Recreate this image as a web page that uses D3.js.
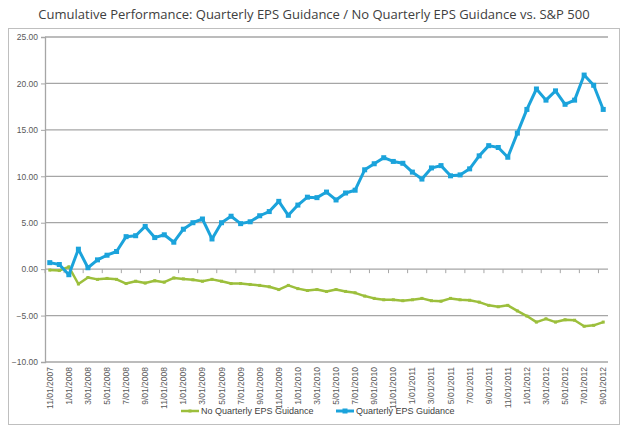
<!DOCTYPE html>
<html><head><meta charset="utf-8">
<script src="https://cdn.jsdelivr.net/npm/d3@7"></script>
<style>body{margin:0;background:#fff}svg{display:block}</style>
</head><body>
<script>
const title = "Cumulative Performance: Quarterly EPS Guidance / No Quarterly EPS Guidance vs. S&P 500";
const months = [];
(function(){ let m=11, y=2007; for(let i=0;i<59;i++){ months.push(m+"/01/"+y); m++; if(m>12){m=1;y++;} } })();
const yTicks = [25,20,15,10,5,0,-5,-10];
const seriesNames = ["No Quarterly EPS Guidance","Quarterly EPS Guidance"];
const quarterly = [0.7,0.5,-0.6,2.15,0.15,1.0,1.5,1.9,3.5,3.6,4.6,3.4,3.7,2.9,4.3,5.0,
  5.4,3.25,5.0,5.7,4.9,5.1,5.75,6.2,7.3,5.8,6.9,7.75,7.7,8.3,
  7.45,8.2,8.5,10.7,11.35,12.0,11.6,11.4,10.45,9.7,10.9,11.15,10.05,10.15,10.8,12.2,
  13.3,13.1,12.05,14.65,17.2,19.4,18.2,19.2,17.75,18.2,20.9,19.8,17.2];
const noQuarterly = [-0.1,-0.15,0.25,-1.6,-0.9,-1.1,-1.0,-1.1,-1.55,-1.3,-1.5,-1.25,-1.4,-0.95,-1.05,-1.15,
  -1.3,-1.1,-1.3,-1.55,-1.55,-1.65,-1.75,-1.9,-2.2,-1.75,-2.1,-2.3,-2.2,-2.4,
  -2.2,-2.4,-2.55,-2.9,-3.15,-3.3,-3.3,-3.4,-3.3,-3.15,-3.4,-3.45,-3.15,-3.3,-3.35,-3.55,
  -3.9,-4.05,-3.9,-4.5,-5.05,-5.7,-5.35,-5.7,-5.45,-5.5,-6.15,-6.05,-5.7];

const W=628,H=432;
const svg=d3.select("body").append("svg").attr("width",W).attr("height",H);
const blue="#1ba3db", green="#9cbf3c", grid="#a6a6a6", txt="#595959";
const L=45,R=608,T=37,B=362;

svg.append("rect").attr("x",8.5).attr("y",28.5).attr("width",611).attr("height",396)
  .attr("fill","none").attr("stroke","#bfbfbf").attr("stroke-width",1);

const t=svg.append("text").attr("x",314).attr("y",19).attr("text-anchor","middle")
  .attr("font-family","'Open Sans',sans-serif").attr("fill","#404040").attr("font-size",13).text(title);
const tw=t.node().getComputedTextLength(); t.attr("font-size",13*552/tw);

const x=d3.scaleBand().domain(months).range([L,R]).padding(0);
const y=d3.scaleLinear().domain([-10,25]).range([B,T]);

// gridlines
svg.append("g").selectAll("line").data(yTicks.filter(v=>v!==0)).join("line")
  .attr("x1",L).attr("x2",R).attr("y1",d=>y(d)).attr("y2",d=>y(d))
  .attr("stroke",grid).attr("stroke-width",1.3);

// y axis
const ya=svg.append("g").attr("transform",`translate(${L},0)`)
  .call(d3.axisLeft(y).tickValues(yTicks).tickFormat(d3.format(".2f")).tickSize(4).tickPadding(3));
ya.select(".domain").attr("stroke",grid).attr("stroke-width",1.3);
ya.selectAll(".tick line").attr("stroke",grid);
ya.selectAll("text").attr("font-family","'Liberation Sans',Arial,sans-serif").attr("font-size",8.5).attr("fill",txt);

// x axis at zero
const evenCats=months.filter((d,i)=>i%2===0);
svg.append("line").attr("x1",L).attr("x2",R).attr("y1",y(0)).attr("y2",y(0)).attr("stroke",grid).attr("stroke-width",1.3);
svg.append("g").selectAll("line").data(evenCats).join("line")
  .attr("x1",d=>x(d)).attr("x2",d=>x(d)).attr("y1",y(0)).attr("y2",y(0)+4).attr("stroke",grid);
svg.append("g").selectAll("text").data(evenCats).join("text")
  .attr("transform",d=>`translate(${x(d)+x.bandwidth()/2+3},367) rotate(-90)`)
  .attr("text-anchor","end").attr("font-family","'Liberation Sans',Arial,sans-serif")
  .attr("font-size",8.5).attr("fill",txt).text(d=>d);

const line=d3.line().x((d,i)=>x(months[i])+x.bandwidth()/2).y(d=>y(d));
svg.append("path").datum(noQuarterly).attr("d",line).attr("fill","none").attr("stroke",green).attr("stroke-width",2.5).attr("stroke-linejoin","round");
svg.append("g").selectAll("rect").data(noQuarterly).join("rect")
  .attr("x",(d,i)=>x(months[i])+x.bandwidth()/2-1.5).attr("y",d=>y(d)-1.5).attr("width",3).attr("height",3).attr("fill",green);
svg.append("path").datum(quarterly).attr("d",line).attr("fill","none").attr("stroke",blue).attr("stroke-width",3).attr("stroke-linejoin","round");
svg.append("g").selectAll("rect").data(quarterly).join("rect")
  .attr("x",(d,i)=>x(months[i])+x.bandwidth()/2-2.5).attr("y",d=>y(d)-2.5).attr("width",5).attr("height",5).attr("fill",blue);

// legend
const leg=[{n:seriesNames[0],c:green,x:181,w:2.5,m:3},{n:seriesNames[1],c:blue,x:336,w:3,m:5}];
const lg=svg.append("g").selectAll("g").data(leg).join("g").attr("transform",d=>`translate(${d.x},411)`);
lg.append("line").attr("x1",0).attr("x2",18).attr("stroke",d=>d.c).attr("stroke-width",d=>d.w);
lg.append("rect").attr("x",d=>9-d.m/2).attr("y",d=>-d.m/2).attr("width",d=>d.m).attr("height",d=>d.m).attr("fill",d=>d.c);
lg.append("text").attr("x",20).attr("y",3).attr("font-family","'Liberation Sans',Arial,sans-serif")
  .attr("font-size",9).attr("fill","#404040").text(d=>d.n);
</script>
</body></html>
